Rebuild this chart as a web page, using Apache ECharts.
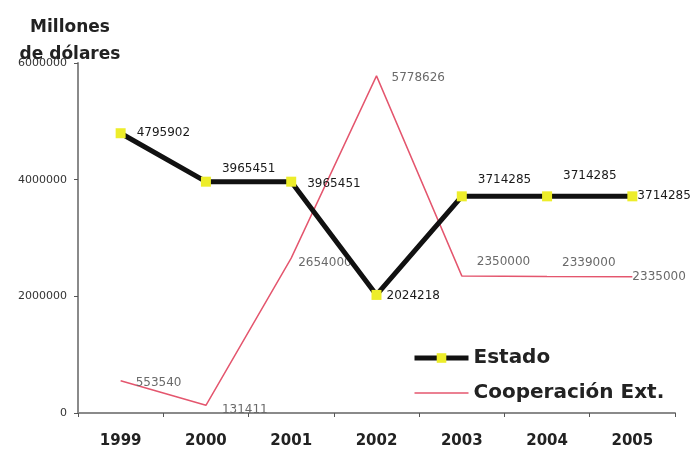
<!DOCTYPE html>
<html>
<head>
<meta charset="utf-8">
<script src="https://cdn.jsdelivr.net/npm/echarts@6/dist/echarts.min.js"></script>
<style>
  html, body { margin: 0; padding: 0; background: #fff; }
  #chart { width: 690px; height: 450px; }
</style>
</head>
<body>
<div id="chart"></div>
<script>
// Annual funding, in dollars
const years = ['1999', '2000', '2001', '2002', '2003', '2004', '2005'];
const estado = [4795902, 3965451, 3965451, 2024218, 3714285, 3714285, 3714285];
const cooperacion = [553540, 131411, 2654000, 5778626, 2350000, 2339000, 2335000];
const yTicks = [0, 2000000, 4000000, 6000000];

// Per-point nudges for the value labels so they don't collide with the lines
const estadoLabelShift = [[0, 0], [0, -13], [0, 2], [-6, 1], [0, -16], [0, -20], [-11, 0]];
const coopLabelShift = [[0, 2], [1, 5], [-8, 5], [0, 2], [0, -14], [0, -14], [-15, 0]];

const chart = echarts.init(document.getElementById('chart'));

const withShift = (values, shifts) =>
  values.map((v, i) => ({ value: v, label: { offset: shifts[i] } }));

chart.setOption({
  animation: false,
  backgroundColor: '#ffffff',
  grid: { left: 78, right: 15, top: 63, bottom: 37 },
  graphic: [{
    type: 'text',
    x: 70,
    y: 14,
    z: 10,
    style: {
      text: 'Millones\nde dólares',
      font: 'bold 17px "DejaVu Sans"',
      fill: '#222',
      align: 'center',
      lineHeight: 27
    }
  }],
  legend: {
    orient: 'vertical',
    left: 407,
    top: 343,
    itemWidth: 54,
    itemHeight: 12,
    itemGap: 15,
    data: [
      { name: 'Estado', lineStyle: { width: 5, color: '#111' } },
      { name: 'Cooperación Ext.', lineStyle: { width: 1.5, color: '#e4566e' } }
    ],
    textStyle: { fontFamily: 'DejaVu Sans', fontWeight: 'bold', fontSize: 20, color: '#222' }
  },
  xAxis: {
    type: 'category',
    data: years,
    boundaryGap: true,
    axisLine: { lineStyle: { color: '#8a8a8a', width: 2 } },
    axisTick: { show: true, length: 4, inside: false, lineStyle: { color: '#555', width: 1 } },
    axisLabel: {
      margin: 21,
      fontFamily: 'DejaVu Sans',
      fontWeight: 'bold',
      fontSize: 15,
      color: '#222'
    },
    splitLine: { show: false }
  },
  yAxis: {
    type: 'value',
    min: yTicks[0],
    max: yTicks[yTicks.length - 1],
    interval: yTicks[1] - yTicks[0],
    axisLine: { show: true, lineStyle: { color: '#8a8a8a', width: 2 } },
    axisTick: { show: true, length: 4, lineStyle: { color: '#555', width: 1 } },
    axisLabel: {
      margin: 11,
      fontFamily: 'DejaVu Sans',
      fontSize: 11,
      color: '#333',
      formatter: v => String(v)
    },
    splitLine: { show: false }
  },
  series: [
    {
      name: 'Cooperación Ext.',
      type: 'line',
      data: withShift(cooperacion, coopLabelShift),
      symbol: 'circle',
      symbolSize: 2,
      itemStyle: { color: 'rgba(0,0,0,0)' },
      lineStyle: { color: '#e4566e', width: 1.5 },
      label: {
        show: true,
        position: 'right',
        distance: 14,
        fontFamily: 'DejaVu Sans',
        fontSize: 12,
        color: '#6a6a6a',
        formatter: p => String(p.value)
      },
      z: 2
    },
    {
      name: 'Estado',
      type: 'line',
      data: withShift(estado, estadoLabelShift),
      symbol: 'rect',
      symbolSize: 10,
      itemStyle: { color: '#eded2a' },
      lineStyle: { color: '#111', width: 5 },
      label: {
        show: true,
        position: 'right',
        distance: 11,
        fontFamily: 'DejaVu Sans',
        fontSize: 12,
        color: '#1a1a1a',
        formatter: p => String(p.value)
      },
      z: 3
    }
  ]
});
</script>
</body>
</html>
